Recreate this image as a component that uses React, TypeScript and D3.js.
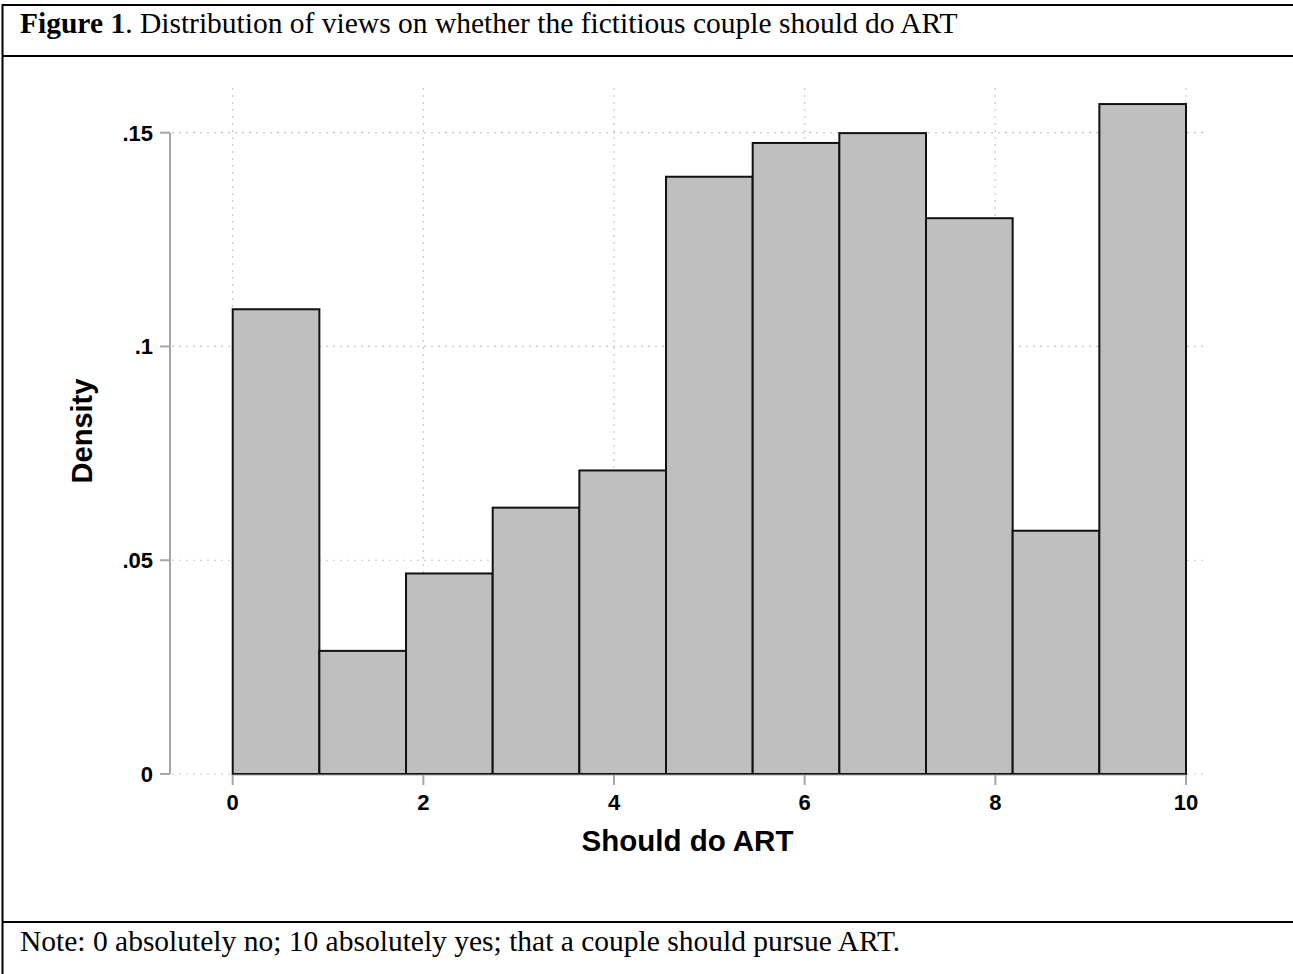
import React from "react";
import * as d3 from "d3";

const binCount = 11;
const binStart = 0;
const binEnd = 10;
const densities = [0.1087, 0.0288, 0.0469, 0.0623, 0.071, 0.1397, 0.1476, 0.1499, 0.13, 0.0569, 0.1567];
const xTicks = [0, 2, 4, 6, 8, 10];
const yTicks = [0, 0.05, 0.1, 0.15];
const yTickLabels = ["0", ".05", ".1", ".15"];
const titleBold = "Figure 1";
const titleRest = ". Distribution of views on whether the fictitious couple should do ART";
const noteText = "Note: 0 absolutely no; 10 absolutely yes; that a couple should pursue ART.";
const xLabel = "Should do ART";
const yLabel = "Density";

const W = 1293;
const H = 974;

export default function App() {
  const x = d3.scaleLinear().domain([0, 10]).range([232.7, 1186]);
  const y = d3.scaleLinear().domain([0, 0.15]).range([774, 132.7]);
  const binW = (binEnd - binStart) / binCount;
  const bins = densities.map((v, i) => ({ x0: binStart + i * binW, x1: binStart + (i + 1) * binW, v }));
  const plotLeft = 172;
  const plotRight = 1203;
  const plotTop = 88;
  const sans = "'Liberation Sans', Arial, Helvetica, sans-serif";
  const serif = "'Liberation Serif', 'Times New Roman', serif";
  const gridColor = "#c8c8c8";
  const axisColor = "#a6a6a6";
  return (
    <svg width={W} height={H} style={{ position: "absolute", left: 0, top: 0, background: "#fff" }}>
      <rect x={0} y={0} width={W} height={H} fill="#fff" />
      {/* table borders */}
      <line x1={2.5} x2={W} y1={5} y2={5} stroke="#000" strokeWidth={2} />
      <line x1={2.5} x2={W} y1={56} y2={56} stroke="#000" strokeWidth={2} />
      <line x1={2.5} x2={W} y1={922} y2={922} stroke="#000" strokeWidth={2} />
      <line x1={2.5} x2={2.5} y1={4} y2={H} stroke="#000" strokeWidth={2} />
      <text x={20} y={33} fontFamily={serif} fontSize={29.5} fill="#000">
        <tspan fontWeight="bold">{titleBold}</tspan>
        <tspan>{titleRest}</tspan>
      </text>
      <text x={20} y={951} fontFamily={serif} fontSize={29.5} fill="#000">{noteText}</text>

      {/* grid */}
      {yTicks.map((t) => (
        <line key={"gy" + t} x1={plotLeft} x2={plotRight} y1={y(t)} y2={y(t)} stroke={gridColor} strokeWidth={1.2} strokeDasharray="2,5" />
      ))}
      {xTicks.map((t) => (
        <line key={"gx" + t} x1={x(t)} x2={x(t)} y1={plotTop} y2={y(0)} stroke={gridColor} strokeWidth={1.2} strokeDasharray="2,5" />
      ))}

      {/* bars */}
      {bins.map((b, i) => (
        <rect key={i} x={x(b.x0)} y={y(b.v)} width={x(b.x1) - x(b.x0)} height={y(0) - y(b.v)} fill="#bfbfbf" stroke="#111" strokeWidth={2} />
      ))}

      {/* y axis */}
      <line x1={170} x2={170} y1={y(0.15)} y2={y(0)} stroke={axisColor} strokeWidth={2} />
      {yTicks.map((t, i) => (
        <g key={"yt" + t}>
          <line x1={160} x2={170} y1={y(t)} y2={y(t)} stroke={axisColor} strokeWidth={2} />
          <text x={153} y={y(t)} dy="0.36em" textAnchor="end" fontFamily={sans} fontWeight="bold" fontSize={22} fill="#000">
            {yTickLabels[i]}
          </text>
        </g>
      ))}
      {/* x axis */}
      <line x1={x(0)} x2={x(10)} y1={775} y2={775} stroke={axisColor} strokeWidth={1} />
      {xTicks.map((t) => (
        <g key={"xt" + t}>
          <line x1={x(t)} x2={x(t)} y1={775} y2={785} stroke={axisColor} strokeWidth={2} />
          <text x={x(t)} y={810} textAnchor="middle" fontFamily={sans} fontWeight="bold" fontSize={22} fill="#000">
            {t}
          </text>
        </g>
      ))}
      <text x={(plotLeft + plotRight) / 2} y={851} textAnchor="middle" fontFamily={sans} fontWeight="bold" fontSize={29.5} fill="#000">
        {xLabel}
      </text>
      <text transform={`translate(92, ${(plotTop + y(0)) / 2}) rotate(-90)`} textAnchor="middle" fontFamily={sans} fontWeight="bold" fontSize={29} fill="#000">
        {yLabel}
      </text>
    </svg>
  );
}
